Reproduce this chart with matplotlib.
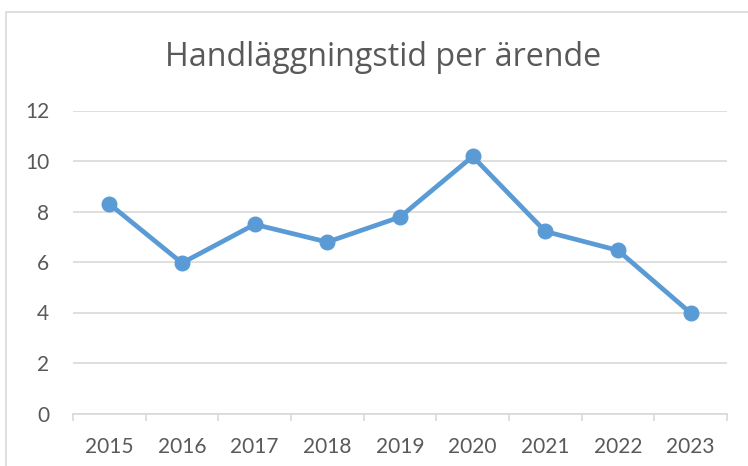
import matplotlib
matplotlib.use("Agg")
import matplotlib.pyplot as plt
from matplotlib.patches import Rectangle

years = ["2015", "2016", "2017", "2018", "2019", "2020", "2021", "2022", "2023"]
values = [8.3, 5.96, 7.49, 6.79, 7.78, 10.18, 7.21, 6.46, 3.98]
y_ticks = [0, 2, 4, 6, 8, 10, 12]
title = "Handläggningstid per ärende"

W, H = 748, 466
fig = plt.figure(figsize=(W / 100, H / 100), dpi=100)
plt.rcParams['font.family'] = ['Lato', 'DejaVu Sans']

text_color = "#595959"
grid_color = "#d9d9d9"
line_color = "#5B9BD5"

# chart area border (extends past right and bottom edges)
fig.patches.append(Rectangle((6 / W, -0.2), 1.2, 1.2 - 12 / H,
                             transform=fig.transFigure, fill=False,
                             edgecolor=grid_color, linewidth=1.2, clip_on=False))

left, right = 73 / W, 727 / W
bottom, top = 1 - 413.5 / H, 1 - 110.5 / H
ax = fig.add_axes([left, bottom, right - left, top - bottom])

x = list(range(len(years)))
ax.plot(x, values, color=line_color, linewidth=3.4, marker='o', markersize=10.5,
        markerfacecolor=line_color, markeredgecolor=line_color,
        solid_joinstyle='round', zorder=3, clip_on=False)

ax.set_xlim(-0.5, len(years) - 0.5)
ax.set_ylim(0, 12)
ax.set_yticks(y_ticks)
ax.set_yticklabels([str(v) for v in y_ticks])
ax.set_xticks(x)
ax.set_xticklabels(years)
ax.set_xticks([i - 0.5 for i in range(len(years) + 1)], minor=True)

ax.grid(axis='y', color=grid_color, linewidth=1.2)
ax.set_axisbelow(True)
for s in ['top', 'right', 'left']:
    ax.spines[s].set_visible(False)
ax.spines['bottom'].set_color(grid_color)
ax.spines['bottom'].set_linewidth(1.2)

ax.tick_params(axis='y', length=0, pad=17, labelsize=15, labelcolor=text_color)
ax.tick_params(axis='x', which='major', length=0, pad=17, labelsize=15, labelcolor=text_color)
ax.tick_params(axis='x', which='minor', length=5, width=1.2, color=grid_color, direction='out')

fig.text(383 / W, 1 - 66 / H, title, ha='center', va='baseline', fontsize=23.2,
         color=text_color, family=['Open Sans', 'DejaVu Sans'])

fig.savefig("out.png", dpi=100)
